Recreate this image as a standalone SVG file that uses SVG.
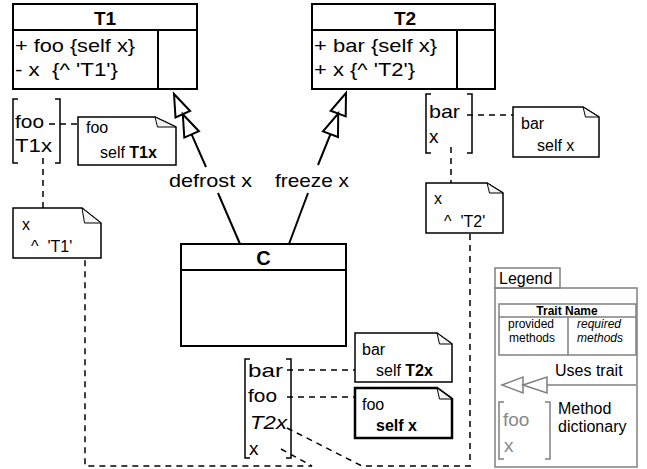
<svg xmlns="http://www.w3.org/2000/svg" width="647" height="469" viewBox="0 0 647 469">
<defs>
<style>
text{font-family:"Liberation Sans",Arial,Helvetica,sans-serif;fill:#000}
.box{fill:#fff;stroke:#000;stroke-width:2}
.ln{fill:none;stroke:#000;stroke-width:2}
.note{fill:#fff;stroke:#000;stroke-width:1.5;stroke-linejoin:miter}
.thick{stroke-width:2.5}
.fold{fill:#f4f4f4;stroke:#000;stroke-width:1}
.br{fill:none;stroke:#000;stroke-width:1.5}
.dash{fill:none;stroke:#000;stroke-width:1.5;stroke-dasharray:6 5}
.arr{fill:none;stroke:#000;stroke-width:2}
.head{fill:#fff;stroke:#000;stroke-width:2;stroke-linejoin:miter}
.lg{fill:none;stroke:#808080;stroke-width:1.5}
.lghead{fill:#fff;stroke:#808080;stroke-width:1.5}
.big{font-size:19px}
.sm{font-size:17px}
.lt{font-size:16px}
.tiny{font-size:12px}
.b{font-weight:bold}
.i{font-style:italic}
.gray{fill:#888}
</style>
</defs>
<rect x="0" y="0" width="647" height="469" fill="#fff"/>

<g id="connectors">
  <polyline class="arr" points="191.6,134.4 206,167"/>
  <polyline class="arr" points="218,193 240,244"/>
  <polygon class="head" points="174,94 190.1,111 175.5,117.4"/>
  <polygon class="head" points="182.8,114.2 198.9,131.2 184.3,137.6"/>
  <text class="big" x="169" y="187" textLength="83" lengthAdjust="spacingAndGlyphs">defrost x</text>

  <polyline class="arr" points="330.5,134.2 318,165"/>
  <polyline class="arr" points="308,193 289,244"/>
  <polygon class="head" points="346,93 345.7,116.4 330.7,110.8"/>
  <polygon class="head" points="338.2,113.6 338,137 323,131.4"/>
  <text class="big" x="275" y="187" textLength="74" lengthAdjust="spacingAndGlyphs">freeze x</text>

  <path class="dash" d="M49,124 H78"/>
  <path class="dash" d="M43,158 V208"/>
  <path class="dash" d="M467,115 H513"/>
  <path class="dash" d="M451,147 V183"/>
  <path class="dash" d="M287,370 H355"/>
  <path class="dash" d="M287,397 H355"/>
  <path class="dash" d="M287,428 L362,466 H470 V233"/>
  <path class="dash" d="M281,449 L312,466 H85 V258"/>
</g>

<g id="T1">
  <rect class="box" x="13" y="4" width="184" height="85"/>
  <path class="ln" d="M13,30 H197 M158,30 V89"/>
  <text class="big b" x="105" y="25" text-anchor="middle">T1</text>
  <text class="big" x="15" y="52" textLength="120" lengthAdjust="spacingAndGlyphs">+ foo {self x}</text>
  <text class="big" x="15" y="76" xml:space="preserve" textLength="103" lengthAdjust="spacingAndGlyphs">- x  {^ 'T1'}</text>
</g>

<g id="T2">
  <rect class="box" x="312" y="4" width="183" height="85"/>
  <path class="ln" d="M312,30 H495 M457,30 V89"/>
  <text class="big b" x="405" y="25" text-anchor="middle">T2</text>
  <text class="big" x="314" y="52" textLength="123" lengthAdjust="spacingAndGlyphs">+ bar {self x}</text>
  <text class="big" x="314" y="76" textLength="101" lengthAdjust="spacingAndGlyphs">+ x {^ 'T2'}</text>
</g>

<g id="C">
  <rect class="box" x="181" y="244" width="165" height="102"/>
  <path class="ln" d="M181,270 H346"/>
  <text class="b" font-size="20" x="263.5" y="265" text-anchor="middle">C</text>
</g>

<g id="T1-dict">
  <path class="br" d="M18,99 H13 V163 H18 M55,99 H60 V163 H55"/>
  <text class="big" x="15" y="128" textLength="29" lengthAdjust="spacingAndGlyphs">foo</text>
  <text class="big" x="15" y="152" textLength="37" lengthAdjust="spacingAndGlyphs">T1x</text>
</g>

<g id="T1-foo-note">
  <path class="note" d="M78,117 H155 L176,127 V165 H78 Z"/>
  <path class="fold" d="M155,117 L157.5,127 H176 Z"/>
  <text class="lt" x="86" y="133">foo</text>
  <text class="lt" x="100" y="158">self <tspan class="b">T1x</tspan></text>
</g>

<g id="T1-x-note">
  <path class="note" d="M13,208 H82 L101,223 V258 H13 Z"/>
  <path class="fold" d="M82,208 L84.5,223 H101 Z"/>
  <text class="lt" x="22" y="230">x</text>
  <text class="lt" x="31" y="252" xml:space="preserve">^  'T1'</text>
</g>

<g id="T2-dict">
  <path class="br" d="M431,94 H426 V153 H431 M467,94 H472 V153 H467"/>
  <text class="big" x="429" y="118" textLength="31" lengthAdjust="spacingAndGlyphs">bar</text>
  <text class="big" x="429" y="143">x</text>
</g>

<g id="T2-bar-note">
  <path class="note" d="M513,107 H583 L599,117 V157 H513 Z"/>
  <path class="fold" d="M583,107 L585.5,117 H599 Z"/>
  <text class="lt" x="521" y="129">bar</text>
  <text class="lt" x="537" y="151">self x</text>
</g>

<g id="T2-x-note">
  <path class="note" d="M426,183 H487 L503,193 V233 H426 Z"/>
  <path class="fold" d="M487,183 L489.5,193 H503 Z"/>
  <text class="lt" x="434" y="204">x</text>
  <text class="lt" x="444" y="227" xml:space="preserve">^  'T2'</text>
</g>

<g id="C-dict">
  <path class="br" d="M250,359 H245 V458 H250 M286,359 H291 V458 H286"/>
  <text class="big" x="248" y="377" textLength="35" lengthAdjust="spacingAndGlyphs">bar</text>
  <text class="big" x="248" y="402" textLength="29" lengthAdjust="spacingAndGlyphs">foo</text>
  <text class="big i" x="250" y="429" textLength="37" lengthAdjust="spacingAndGlyphs">T2x</text>
  <text class="big" x="249" y="455">x</text>
</g>

<g id="C-bar-note">
  <path class="note" d="M355,333 H437 L452,344 V382 H355 Z"/>
  <path class="fold" d="M437,333 L439.5,344 H452 Z"/>
  <text class="lt" x="362" y="355">bar</text>
  <text class="lt" x="376" y="376">self <tspan class="b">T2x</tspan></text>
</g>

<g id="C-foo-note">
  <path class="note thick" d="M355,388 H437 L452,399 V438 H355 Z"/>
  <path class="fold" d="M437,388 L439.5,399 H452 Z"/>
  <text class="lt" x="362" y="410">foo</text>
  <text class="lt b" x="376" y="431">self x</text>
</g>

<g id="legend">
  <rect class="lg" x="495" y="268" width="65" height="20"/>
  <rect class="lg" x="495" y="288" width="142" height="179"/>
  <text class="lt" x="499" y="284">Legend</text>
  <rect class="lg" x="499" y="304" width="137" height="51"/>
  <path class="lg" d="M499,317 H636 M568,317 V355"/>
  <text class="tiny b" x="567" y="315" text-anchor="middle">Trait Name</text>
  <text class="tiny" x="508" y="328">provided</text>
  <text class="tiny" x="509" y="342">methods</text>
  <text class="tiny i" x="577" y="328">required</text>
  <text class="tiny i" x="577" y="342">methods</text>
  <text class="lt" x="555" y="376">Uses trait</text>
  <path class="lg" d="M547,385 H636"/>
  <polygon class="lghead" points="502,385 523,377 523,393"/>
  <polygon class="lghead" points="523,385 547,377 547,393"/>
  <path class="lg" d="M504,402 H499 V459 H504 M545,402 H550 V459 H545"/>
  <text class="big gray" x="503" y="426">foo</text>
  <text class="big gray" x="504" y="452">x</text>
  <text class="lt" x="558" y="414">Method</text>
  <text class="lt" x="558" y="432">dictionary</text>
</g>
</svg>
